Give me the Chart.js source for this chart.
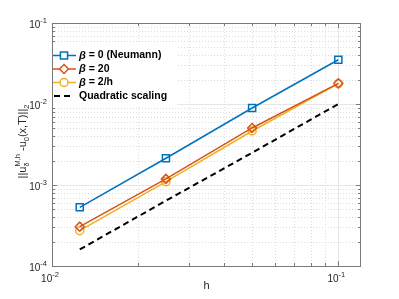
<!DOCTYPE html>
<html><head><meta charset="utf-8">
<script src="https://cdn.jsdelivr.net/npm/chart.js@4"></script>
<style>html,body{margin:0;padding:0;background:#fff}#wrap{width:399px;height:299px}</style>
</head><body><div id="wrap"><canvas id="c" width="399" height="299"></canvas></div>
<script>
// ---- data ----
const hValues = [0.0125, 0.025, 0.05, 0.1];
const errNeumann = [0.00053, 0.00214, 0.00893, 0.0352];
const errBeta20 = [0.000306, 0.00119, 0.00506, 0.0180];
const errBeta2h = [0.000273, 0.00110, 0.00464, 0.0178];
const quadScaling = [0.00016, 0.00064, 0.0025, 0.01];
const seriesNames = ['β = 0 (Neumann)', 'β = 20', 'β = 2/h', 'Quadratic scaling'];
const xTickValues = [0.01, 0.1];
const xTickExponents = ['-2', '-1'];
const yTickValues = [1e-4, 1e-3, 1e-2, 1e-1];
const yTickExponents = ['-4', '-3', '-2', '-1'];
const xAxisTitle = 'h';
const xRange = [0.01, 0.12];
const yRange = [1e-4, 1e-1];

const FONT = '"Liberation Sans", Arial, Helvetica, sans-serif';
const TXT = '#262626';
const AX = '#7a7a7a';

function pts(ys){ return hValues.map((h,i)=>({x:h, y:ys[i]})); }

const datasets = [
  {label: seriesNames[0], data: pts(errNeumann), borderColor:'#0072BD', backgroundColor:'rgba(0,0,0,0)',
   borderWidth:1.5, pointStyle:'rect', pointRadius:5, pointBorderWidth:1.5, pointBorderColor:'#0072BD', pointBackgroundColor:'rgba(0,0,0,0)'},
  {label: seriesNames[1], data: pts(errBeta20), borderColor:'#D95319', backgroundColor:'rgba(0,0,0,0)',
   borderWidth:1.5, pointStyle:'rectRot', pointRadius:4.5, pointBorderWidth:1.5, pointBorderColor:'#D95319', pointBackgroundColor:'rgba(0,0,0,0)'},
  {label: seriesNames[2], data: pts(errBeta2h), borderColor:'#EDB120', backgroundColor:'rgba(0,0,0,0)',
   borderWidth:1.5, pointStyle:'circle', pointRadius:4, pointBorderWidth:1.5, pointBorderColor:'#EDB120', pointBackgroundColor:'rgba(0,0,0,0)'},
  {label: seriesNames[3], data: pts(quadScaling), borderColor:'#000000', backgroundColor:'rgba(0,0,0,0)',
   borderWidth:2, borderDash:[6,4], pointRadius:0}
];

function logVals(min, max){
  const out = [];
  for (let e=-6; e<=1; e++) for (let m=1; m<=9; m++){
    const v = m*Math.pow(10,e);
    if (v >= min*0.9999 && v <= max*1.0001) out.push({v, major: m===1});
  }
  return out;
}

function rich(ctx, parts, x, y, align){
  const widths = parts.map(p=>{
    ctx.font = (p.style||'') + ' ' + (p.weight||'normal') + ' ' + p.size + 'px ' + FONT;
    return ctx.measureText(p.t).width;
  });
  let cx = 0, positions = [];
  for (let i=0;i<parts.length;i++){
    if (parts[i].stack && i>0){
      positions[i] = positions[i-1];
      const extra = widths[i] - widths[i-1];
      if (extra > 0) cx += extra;
    } else {
      positions[i] = cx;
      cx += widths[i];
    }
  }
  const total = cx;
  const start = align==='center' ? x - total/2 : align==='right' ? x - total : x;
  ctx.textBaseline = 'middle';
  ctx.textAlign = 'left';
  parts.forEach((p,i)=>{
    ctx.font = (p.style||'') + ' ' + (p.weight||'normal') + ' ' + p.size + 'px ' + FONT;
    ctx.fillText(p.t, start + positions[i], y + (p.dy||0));
  });
  return total;
}

const matlabAxes = {
  id: 'matlabAxes',
  beforeDatasetsDraw(chart){
    const {ctx, chartArea:a, scales:{x, y}} = chart;
    ctx.save();
    ctx.lineWidth = 1;
    const gridLine = (o, draw)=>{
      ctx.beginPath();
      if (o.major){ ctx.setLineDash([]); ctx.strokeStyle = '#e6e6e6'; }
      else { ctx.setLineDash([1,2]); ctx.strokeStyle = '#dcdcdc'; }
      draw(); ctx.stroke();
    };
    logVals(x.min, x.max).forEach(o=>{
      const px = Math.round(x.getPixelForValue(o.v)) + 0.5;
      if (px <= a.left+1 || px >= a.right-1) return;
      gridLine(o, ()=>{ ctx.moveTo(px, a.top); ctx.lineTo(px, a.bottom); });
    });
    logVals(y.min, y.max).forEach(o=>{
      const py = Math.round(y.getPixelForValue(o.v)) + 0.5;
      if (py <= a.top+1 || py >= a.bottom-1) return;
      gridLine(o, ()=>{ ctx.moveTo(a.left, py); ctx.lineTo(a.right, py); });
    });
    ctx.setLineDash([]);
    ctx.strokeStyle = AX;
    ctx.strokeRect(Math.round(a.left)+0.5, Math.round(a.top)+0.5, Math.round(a.right-a.left)-1, Math.round(a.bottom-a.top));
    ctx.beginPath();
    logVals(x.min, x.max).forEach(o=>{
      const px = Math.round(x.getPixelForValue(o.v)) + 0.5;
      const L = o.major ? 5 : 3;
      ctx.moveTo(px, a.bottom); ctx.lineTo(px, a.bottom - L);
      ctx.moveTo(px, a.top); ctx.lineTo(px, a.top + L);
    });
    logVals(y.min, y.max).forEach(o=>{
      const py = Math.round(y.getPixelForValue(o.v)) + 0.5;
      const L = o.major ? 5 : 3;
      ctx.moveTo(a.left, py); ctx.lineTo(a.left + L, py);
      ctx.moveTo(a.right, py); ctx.lineTo(a.right - L, py);
    });
    ctx.stroke();
    ctx.restore();
  },
  afterDraw(chart){
    const {ctx, chartArea:a, scales:{x, y}} = chart;
    ctx.save();
    ctx.fillStyle = TXT;
    yTickValues.forEach((v,i)=>{
      const py = y.getPixelForValue(v);
      rich(ctx, [{t:'10', size:10, dy:2.5}, {t:yTickExponents[i], size:7.5, dy:-2}], a.left - 5, py, 'right');
    });
    xTickValues.forEach((v,i)=>{
      const px = x.getPixelForValue(v);
      rich(ctx, [{t:'10', size:10, dy:0}, {t:xTickExponents[i], size:7.5, dy:-4.5}], px - 2, a.bottom + 13.5, 'center');
    });
    ctx.font = '11px ' + FONT;
    ctx.textAlign = 'center'; ctx.textBaseline = 'middle';
    ctx.fillText(xAxisTitle, (a.left + a.right)/2, a.bottom + 19.5);
    ctx.save();
    ctx.translate(23, (a.top + a.bottom)/2 - 3);
    ctx.rotate(-Math.PI/2);
    rich(ctx, [
      {t:'||u', size:11, dy:0},
      {t:'M,h', size:7.5, dy:-5},
      {t:'δ', size:7.5, dy:4, stack:true},
      {t:' -u', size:11, dy:0},
      {t:'0', size:7.5, dy:3.5},
      {t:'(x,T)||', size:11, dy:0},
      {t:'2', size:7.5, dy:3.5}
    ], 0, 0, 'center');
    ctx.restore();
    // legend
    const lx = a.left + 1, ly = 44;
    ctx.fillStyle = '#ffffff';
    ctx.fillRect(lx, ly, 124, 62);
    const rows = [55.5, 69, 82.5, 96];
    datasets.forEach((ds, i)=>{
      const yy = rows[i];
      ctx.save();
      ctx.strokeStyle = ds.borderColor;
      ctx.lineWidth = ds.borderWidth;
      ctx.setLineDash(ds.borderDash || []);
      ctx.beginPath();
      if (ds.borderDash){ ctx.moveTo(a.left + 2, yy); ctx.lineTo(a.left + 21, yy); }
      else { ctx.moveTo(a.left + 1, yy); ctx.lineTo(a.left + 24, yy); }
      ctx.stroke();
      ctx.setLineDash([]);
      if (ds.pointRadius > 0){
        ctx.lineWidth = ds.pointBorderWidth;
        ctx.fillStyle = '#ffffff';
        Chart.helpers.drawPoint(ctx, {pointStyle: ds.pointStyle, radius: ds.pointRadius, borderWidth: ds.pointBorderWidth, rotation:0}, a.left + 12, yy);
      }
      ctx.restore();
      ctx.fillStyle = '#000';
      const name = seriesNames[i];
      if (name.startsWith('β')){
        rich(ctx, [{t:'β', size:11, style:'italic', weight:'bold'}, {t:name.slice(1), size:10.5, weight:'bold'}], a.left + 27, yy, 'left');
      } else {
        rich(ctx, [{t:name, size:10.5, weight:'bold'}], a.left + 27, yy, 'left');
      }
    });
    ctx.restore();
  }
};

new Chart(document.getElementById('c'), {
  type: 'line',
  data: { datasets },
  options: {
    responsive: false, animation: false, devicePixelRatio: 1,
    layout: { padding: { left: 52, top: 23, right: 38, bottom: 33 } },
    plugins: { legend: { display: false }, tooltip: { enabled: false } },
    elements: { line: { tension: 0 } },
    scales: {
      x: { type: 'logarithmic', min: xRange[0], max: xRange[1], display: false },
      y: { type: 'logarithmic', min: yRange[0], max: yRange[1], display: false }
    }
  },
  plugins: [matlabAxes]
});
</script>
</body></html>
